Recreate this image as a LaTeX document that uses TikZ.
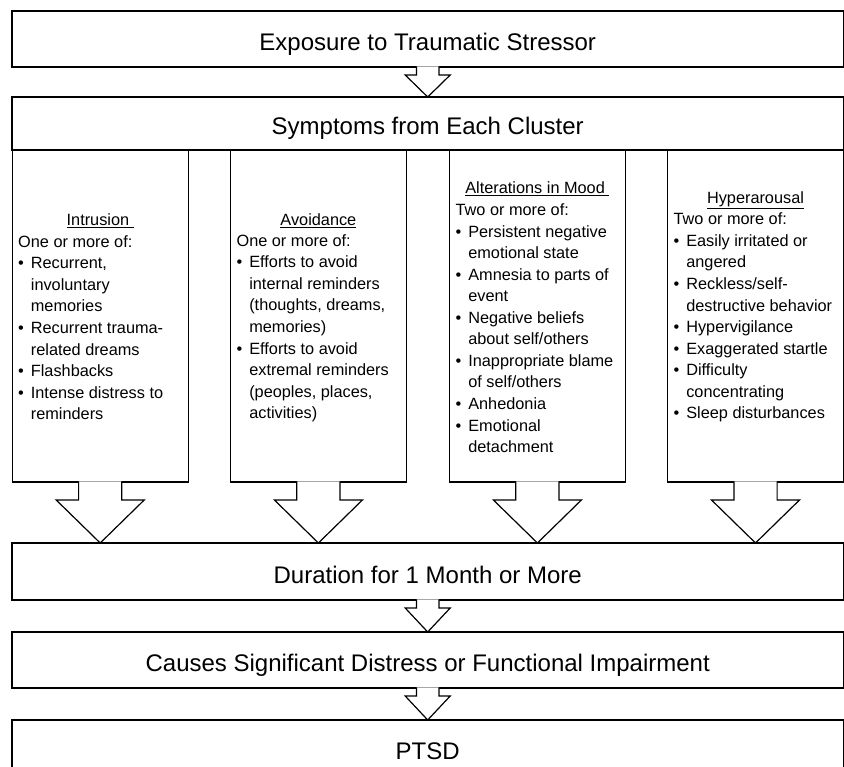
\documentclass[tikz,border=0pt]{standalone}
\usepackage{fontspec}
\setmainfont{Liberation Sans}
\usetikzlibrary{calc}

\newcommand{\bodyfont}{\fontsize{16.3}{21.55}\selectfont}
\newcommand{\stagefont}{\fontsize{24}{28}\selectfont}
\newcommand{\blockarrow}[5]{%
  \draw[arrowbody] ([xshift=-#3pt, yshift=0.7pt]#1.south) -- ([xshift=-#3pt, yshift=-#5pt]#1.south)
    -- ([xshift=-#4pt, yshift=-#5pt]#1.south) -- (#1.south |- #2.north)
    -- ([xshift=#4pt, yshift=-#5pt]#1.south) -- ([xshift=#3pt, yshift=-#5pt]#1.south)
    -- ([xshift=#3pt, yshift=0.7pt]#1.south);}

\begin{document}
\begin{tikzpicture}[x=1pt, y=-1pt,
    stage/.style={draw, line width=1.2pt, outer sep=0pt, inner sep=0pt, minimum width=831.6pt,
      minimum height=56pt, text height=23pt, text depth=0pt, font=\stagefont},
    colbox/.style={draw, line width=1.2pt, outer sep=0pt, inner sep=0pt, minimum width=176pt,
      minimum height=332pt, anchor=north},
    arrowbody/.style={draw, fill=white, line width=1.2pt},
    head/.style={anchor=base, inner sep=0pt, font=\bodyfont},
    listtext/.style={anchor=base west, inner sep=0pt, font=\bodyfont}]
                \useasboundingbox (0,0) rectangle (844,767);
                \clip (0,0) rectangle (844,767);

                \node[stage] (expo) at (427.7,39) {Exposure to Traumatic Stressor};
                \node[stage, minimum height=53pt] (sym) at (427.7,123.5) {Symptoms from Each Cluster};
                \node[stage, minimum height=57pt] (dur) at (427.7,571.5) {Duration for 1 Month or More};
                \node[stage] (caus) at (427.7,660) {Causes Significant Distress or Functional Impairment};
                \node[stage] (ptsd) at (427.7,748) {PTSD};

                \node[colbox] (intr) at (100.2,150) {};
                \node[colbox] (avoid) at (318.4,150) {};
                \node[colbox] (mood) at (537.4,150) {};
                \node[colbox] (hyper) at (755.5,150) {};

                \blockarrow{expo}{sym}{11.3}{22.5}{8}
                \blockarrow{dur}{caus}{11.3}{22.5}{8}
                \blockarrow{caus}{ptsd}{11.3}{22.5}{8}
                \foreach \n in {intr, avoid, mood, hyper}
                    {\blockarrow{\n}{dur}{21.6}{44}{18}}

                \node[head] (intrhead) at (100.2,226) {\underline{Intrusion\ }};
                \node[listtext] (intrlist) at (18,247.3) {\begin{tabular}[t]{@{}l@{\hspace{7pt}}l@{}}
                    \multicolumn{2}{@{}l@{}}{One or more of:}\\
                    \textbullet & Recurrent,\\
                     & involuntary\\
                     & memories\\
                    \textbullet & Recurrent trauma-\\
                     & related dreams\\
                    \textbullet & Flashbacks\\
                    \textbullet & Intense distress to\\
                     & reminders
                    \end{tabular}};

                \node[head] (avoidhead) at (318.4,225.4) {\underline{Avoidance}};
                \node[listtext] (avoidlist) at (236.4,246.3) {\begin{tabular}[t]{@{}l@{\hspace{7pt}}l@{}}
                    \multicolumn{2}{@{}l@{}}{One or more of:}\\
                    \textbullet & Efforts to avoid\\
                     & internal reminders\\
                     & (thoughts, dreams,\\
                     & memories)\\
                    \textbullet & Efforts to avoid\\
                     & extremal reminders\\
                     & (peoples, places,\\
                     & activities)
                    \end{tabular}};

                \node[head] (moodhead) at (537.4,194) {\underline{Alterations in Mood\ }};
                \node[listtext] (moodlist) at (455.4,215.6) {\begin{tabular}[t]{@{}l@{\hspace{7pt}}l@{}}
                    \multicolumn{2}{@{}l@{}}{Two or more of:}\\
                    \textbullet & Persistent negative\\
                     & emotional state\\
                    \textbullet & Amnesia to parts of\\
                     & event\\
                    \textbullet & Negative beliefs\\
                     & about self/others\\
                    \textbullet & Inappropriate blame\\
                     & of self/others\\
                    \textbullet & Anhedonia\\
                    \textbullet & Emotional\\
                     & detachment
                    \end{tabular}};

                \node[head] (hyperhead) at (755.5,203.4) {\underline{Hyperarousal}};
                \node[listtext] (hyperlist) at (673.4,224.9) {\begin{tabular}[t]{@{}l@{\hspace{7pt}}l@{}}
                    \multicolumn{2}{@{}l@{}}{Two or more of:}\\
                    \textbullet & Easily irritated or\\
                     & angered\\
                    \textbullet & Reckless/self-\\
                     & destructive behavior\\
                    \textbullet & Hypervigilance\\
                    \textbullet & Exaggerated startle\\
                    \textbullet & Difficulty\\
                     & concentrating\\
                    \textbullet & Sleep disturbances
                    \end{tabular}};
            \end{tikzpicture}
\end{document}
